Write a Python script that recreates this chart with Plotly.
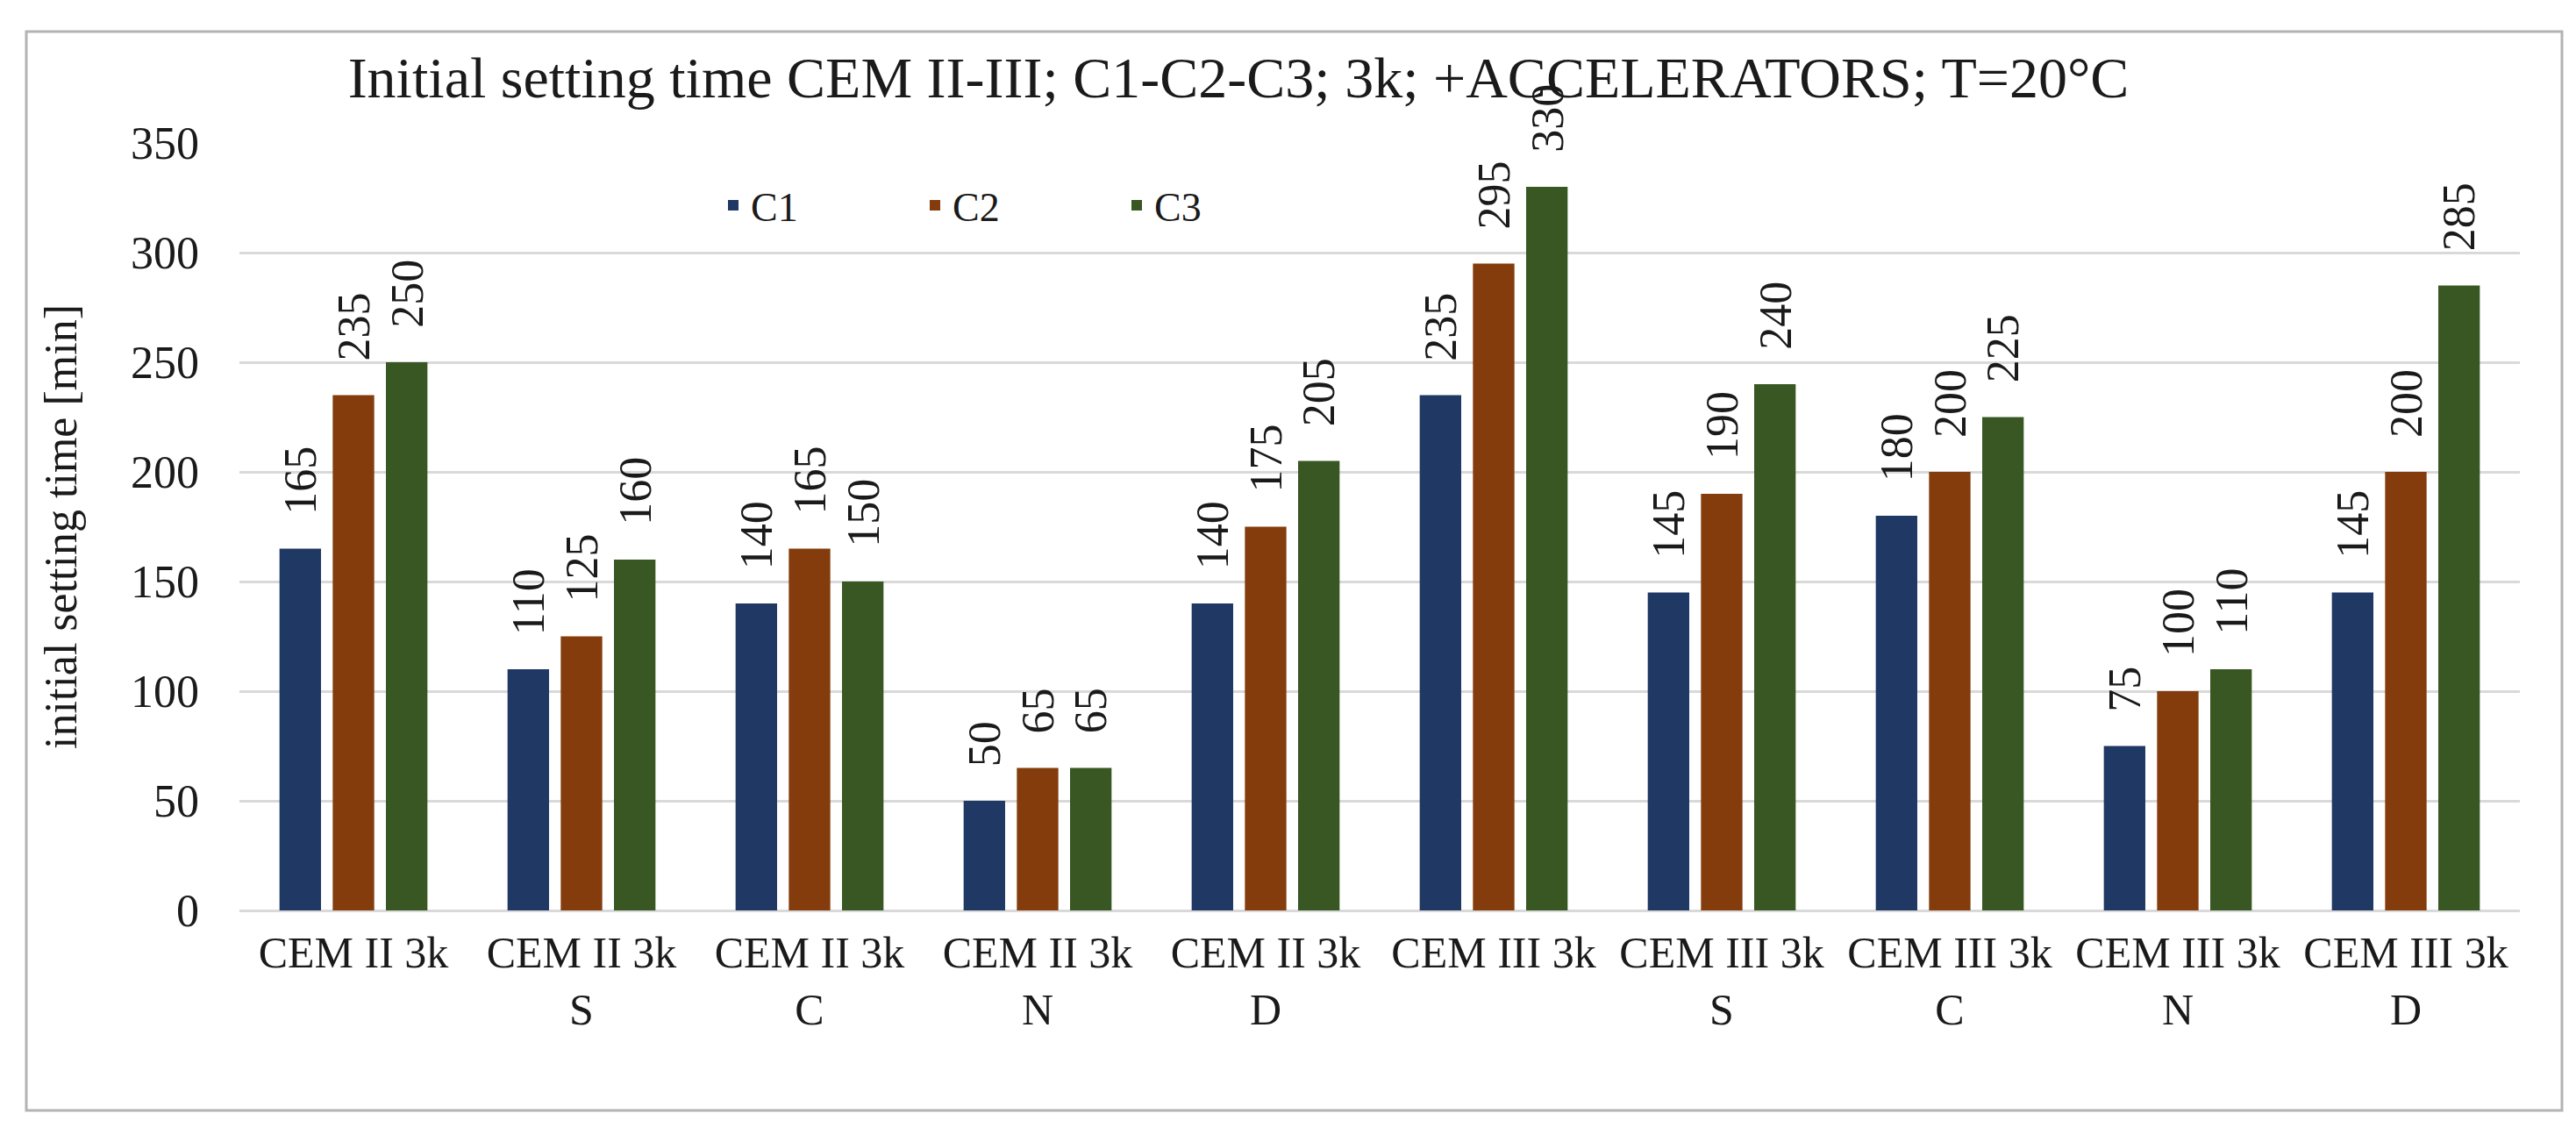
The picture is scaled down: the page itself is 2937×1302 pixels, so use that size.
import plotly.graph_objects as go

categories = ["CEM II 3k", "CEM II 3k<br>S", "CEM II 3k<br>C", "CEM II 3k<br>N", "CEM II 3k<br>D",
              "CEM III 3k", "CEM III 3k<br>S", "CEM III 3k<br>C", "CEM III 3k<br>N", "CEM III 3k<br>D"]
c1 = [165, 110, 140, 50, 140, 235, 145, 180, 75, 145]
c2 = [235, 125, 165, 65, 175, 295, 190, 200, 100, 200]
c3 = [250, 160, 150, 65, 205, 330, 240, 225, 110, 285]
series_names = ["C1", "C2", "C3"]
y_ticks = [0, 50, 100, 150, 200, 250, 300, 350]

colors = ["#203864", "#843C0C", "#385723"]
FONT = "Liberation Serif"
TXT = "#1a1a1a"
BARGAP = 0.30
BARGROUPGAP = 0.22

W, H = 2937, 1302
ML, MR, MT, MB = 265, 72, 155, 272
PW, PH = W - ML - MR, H - MT - MB

fig = go.Figure()
all_series = [c1, c2, c3]
for name, vals, col in zip(series_names, all_series, colors):
    fig.add_trace(go.Bar(name=name, x=categories, y=vals, marker=dict(color=col, line=dict(width=0))))

# data labels (rotated) above bars
slot = (1 - BARGAP) / len(all_series)
for j, vals in enumerate(all_series):
    off = (j - (len(all_series) - 1) / 2) * slot
    for i, v in enumerate(vals):
        fig.add_annotation(x=i + off, y=v, xref="x", yref="y", text=str(v), textangle=-90,
                           showarrow=False, yanchor="bottom", xanchor="center", yshift=37,
                           font=dict(family=FONT, size=52, color=TXT))

# outer chart border
def px_x(p):
    return (p - ML) / PW
def px_y(p):
    return (H - MB - p) / PH

fig.add_shape(type="rect", xref="paper", yref="paper",
              x0=px_x(22), x1=px_x(2913), y0=px_y(1258), y1=px_y(28),
              line=dict(color="#b3b3b3", width=3), fillcolor="rgba(0,0,0,0)", layer="below")

fig.update_layout(
    width=W, height=H,
    margin=dict(l=ML, r=MR, t=MT, b=MB),
    paper_bgcolor="white", plot_bgcolor="white",
    barmode="group", bargap=BARGAP, bargroupgap=BARGROUPGAP,
    title=dict(text="Initial setting time CEM II-III; C1-C2-C3; 3k; +ACCELERATORS; T=20°C",
               x=1404 / W, xanchor="center", y=1 - 80 / H, yanchor="middle",
               font=dict(family=FONT, size=66, color=TXT)),
    legend=dict(orientation="h", x=px_x(808), y=px_y(226), xanchor="left", yanchor="middle",
                font=dict(family=FONT, size=46, color=TXT), entrywidth=185, entrywidthmode="pixels",
                bgcolor="rgba(0,0,0,0)"),
    xaxis=dict(type="category", tickfont=dict(family=FONT, size=50, color=TXT),
               showgrid=False, showline=False, ticks="", ticklabelstandoff=14),
    yaxis=dict(range=[0, 350], tickvals=y_ticks, showgrid=True, gridcolor="#d9d9d9", gridwidth=3,
               zeroline=True, zerolinecolor="#d9d9d9", zerolinewidth=3, showline=False, ticks="",
               tickfont=dict(family=FONT, size=52, color=TXT), ticklabelstandoff=45,
               title=dict(text="initial setting time [min]", standoff=44,
                          font=dict(family=FONT, size=52, color=TXT))),
    font=dict(family=FONT, color=TXT),
)

fig.write_html("out.html")
